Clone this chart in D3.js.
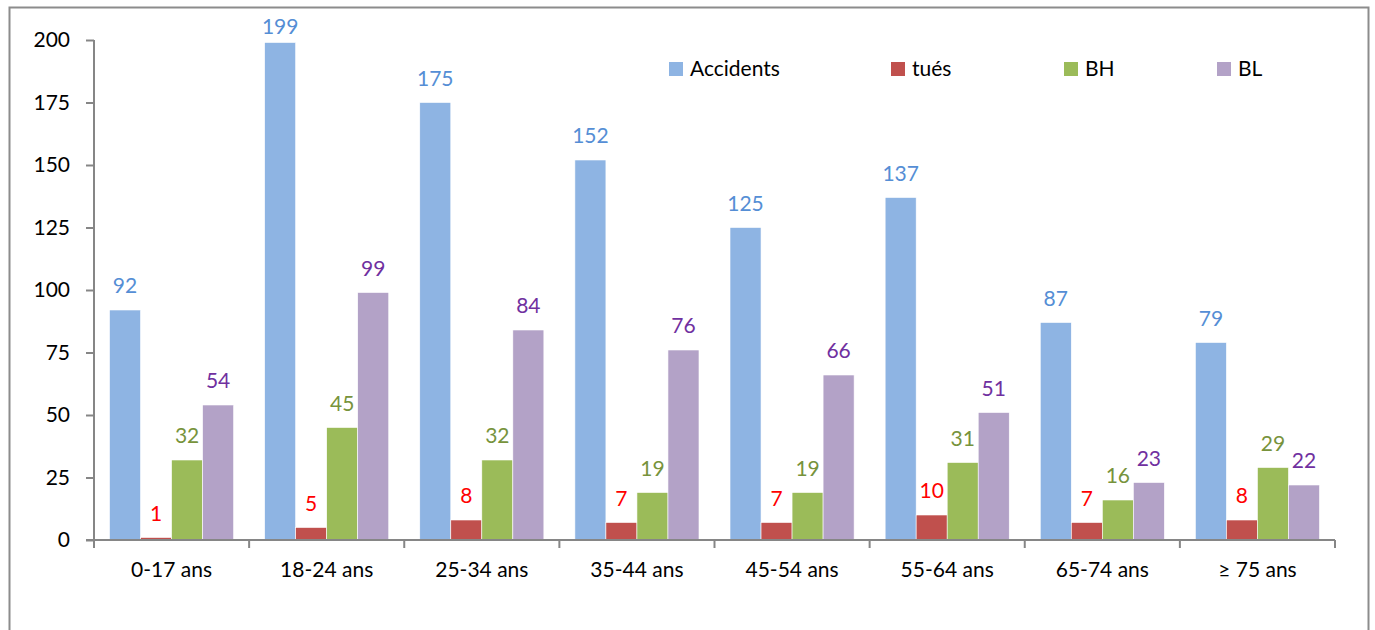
<!DOCTYPE html>
<html>
<head>
<meta charset="utf-8">
<script src="https://cdn.jsdelivr.net/npm/d3@7"></script>
<style>
  body { margin: 0; background: #fff; }
  svg text { font-family: Lato, "Open Sans", sans-serif; }
</style>
</head>
<body>
<svg id="chart" width="1375" height="630"></svg>
<script>
// data
var categories = ["0-17 ans", "18-24 ans", "25-34 ans", "35-44 ans", "45-54 ans", "55-64 ans", "65-74 ans", "≥ 75 ans"];
var seriesNames = ["Accidents", "tués", "BH", "BL"];
var accidents = [92, 199, 175, 152, 125, 137, 87, 79];
var tues = [1, 5, 8, 7, 7, 10, 7, 8];
var bh = [32, 45, 32, 19, 19, 31, 16, 29];
var bl = [54, 99, 84, 76, 66, 51, 23, 22];
var yTicks = [0, 25, 50, 75, 100, 125, 150, 175, 200];

var barColors = ["#8EB4E3", "#C0504D", "#9BBB59", "#B3A2C7"];
var labelColors = ["#558ED5", "#FF0000", "#77933C", "#7030A0"];
var legendX = [669, 891, 1064, 1217];
var fontSize = 21;

var values = [accidents, tues, bh, bl];
var rows = categories.map(function (c, i) {
  return { cat: c, vals: values.map(function (s) { return s[i]; }) };
});

var svg = d3.select("#chart");
var axisColor = "#868686";

// outer frame
svg.append("rect")
  .attr("x", 9.5).attr("y", 7.5)
  .attr("width", 1359).attr("height", 640)
  .attr("fill", "none").attr("stroke", "#8c8c8c").attr("stroke-width", 2);

var plotLeft = 94, plotRight = 1335, plotTop = 40, plotBottom = 540;

var x = d3.scaleBand().domain(categories).range([plotLeft, plotRight]);
var inner = d3.scaleBand().domain(d3.range(4)).range([0, x.bandwidth()]).paddingOuter(0.5);
var y = d3.scaleLinear().domain([0, 200]).range([plotBottom, plotTop]);

// bars
var groups = svg.selectAll("g.cat").data(rows).enter().append("g")
  .attr("class", "cat")
  .attr("transform", function (d) { return "translate(" + x(d.cat) + ",0)"; });

groups.selectAll("rect").data(function (d) { return d.vals; }).enter().append("rect")
  .attr("x", function (d, i) { return inner(i); })
  .attr("y", function (d) { return y(d); })
  .attr("width", inner.bandwidth())
  .attr("height", function (d) { return plotBottom - y(d); })
  .attr("fill", function (d, i) { return barColors[i]; })
  .attr("stroke", "#fff").attr("stroke-width", 0.6);

// value labels, kept inside the frame like Excel does
groups.selectAll("text").data(function (d) { return d.vals; }).enter().append("text")
  .attr("x", function (d, i) { return inner(i) + inner.bandwidth() / 2; })
  .attr("y", function (d) { return Math.max(y(d) - 17, 34); })
  .attr("text-anchor", "middle")
  .attr("font-size", fontSize)
  .attr("fill", function (d, i) { return labelColors[i]; })
  .text(function (d) { return d; });

// y axis
var yAxis = svg.append("g").attr("transform", "translate(" + plotLeft + ",0)")
  .call(d3.axisLeft(y).tickValues(yTicks).tickSize(8).tickPadding(16));
yAxis.select(".domain").attr("stroke", axisColor).attr("stroke-width", 2)
  .attr("d", "M0," + plotTop + "V" + (plotBottom + 8));
yAxis.selectAll(".tick line").attr("stroke", axisColor).attr("stroke-width", 2);
yAxis.selectAll(".tick text").attr("font-size", fontSize).attr("fill", "#000")
  .style("font-family", "Lato, 'Open Sans', sans-serif");

// x axis
var xAxis = svg.append("g").attr("transform", "translate(0," + plotBottom + ")")
  .call(d3.axisBottom(x).tickSize(0).tickPadding(22));
xAxis.select(".domain").attr("stroke", axisColor).attr("stroke-width", 2)
  .attr("d", "M" + (plotLeft - 8) + ",0H" + plotRight);
xAxis.selectAll(".tick text").attr("font-size", fontSize).attr("fill", "#000")
  .style("font-family", "Lato, 'Open Sans', sans-serif");
var edges = categories.map(function (c) { return x(c); }).concat([plotRight]);
xAxis.selectAll("line.edge").data(edges).enter().append("line")
  .attr("class", "edge")
  .attr("x1", function (d) { return d; }).attr("x2", function (d) { return d; })
  .attr("y1", 0).attr("y2", 8)
  .attr("stroke", axisColor).attr("stroke-width", 2);

// legend
var legend = svg.selectAll("g.legend").data(seriesNames).enter().append("g")
  .attr("class", "legend")
  .attr("transform", function (d, i) { return "translate(" + legendX[i] + ",62)"; });
legend.append("rect").attr("width", 14).attr("height", 14)
  .attr("fill", function (d, i) { return barColors[i]; });
legend.append("text").attr("x", 21).attr("y", 14)
  .attr("font-size", fontSize).attr("fill", "#000")
  .text(function (d) { return d; });
</script>
</body>
</html>
